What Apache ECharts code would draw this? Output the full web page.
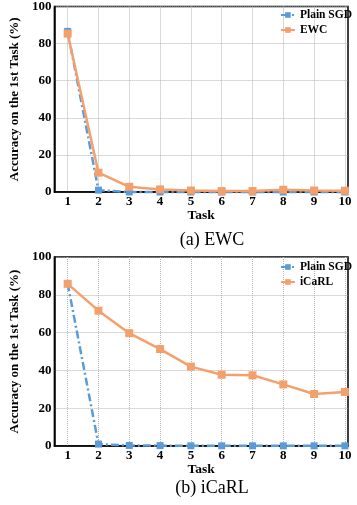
<!DOCTYPE html>
<html><head><meta charset="utf-8">
<script src="https://cdn.jsdelivr.net/npm/echarts@6/dist/echarts.min.js"></script>
<style>html,body{margin:0;padding:0;background:#fff}#c{width:357px;height:505px}</style>
</head><body><div id="c"></div>
<script>
var tasks = [1,2,3,4,5,6,7,8,9,10];
var yTicks = [0,20,40,60,80,100];
var sgdA = [86.6, 1.0, 0, 0, 0, 0, 0, 0, 0, 0];
var ewc  = [85.4, 10.4, 2.8, 1.4, 0.8, 0.5, 0.5, 1.2, 0.8, 0.7];
var sgdB = [86.0, 1.0, 0.3, 0.2, 0.1, 0.1, 0.1, 0.1, 0.1, 0.1];
var icarl = [85.8, 71.6, 59.7, 51.3, 42.0, 37.7, 37.4, 32.6, 27.5, 28.6];
var captions = ['(a) EWC', '(b) iCaRL'];

var FONT = 'Liberation Serif';
var BLUE = '#5b9bd8', ORANGE = '#f4a06c';
function pairs(v){ return tasks.map(function(t,i){ return [t, v[i]]; }); }

var grids = [
  {left:51, top:5, width:297, height:187},
  {left:51, top:257, width:297, height:189}
];
grids.forEach(function(g){ g.show = true; g.borderColor = '#000'; g.borderWidth = 1.5; g.backgroundColor = 'transparent'; });

function xAxis(i){
  return {type:'value', gridIndex:i, min:0.57, max:10.1,
    name:'Task', nameLocation:'middle', nameGap:16,
    nameTextStyle:{fontFamily:FONT, fontWeight:'bold', fontSize:13.5, color:'#000'},
    axisLine:{show:true, lineStyle:{color:'#000', width:1.5}},
    axisTick:{show:false, customValues:tasks},
    axisLabel:{customValues:tasks, fontFamily:FONT, fontWeight:'bold', fontSize:13, color:'#000', margin:3},
    splitLine:{show:true, lineStyle:{type:'dotted', color:'#b4b4b4', width:1}}
  };
}
function yAxis(i){
  return {type:'value', gridIndex:i, min:0, max:100, interval:20,
    name:'Accuracy on the 1st Task (%)', nameLocation:'middle', nameGap:29,
    nameTextStyle:{fontFamily:FONT, fontWeight:'bold', fontSize:13, color:'#000'},
    axisLine:{show:true, lineStyle:{color:'#000', width:1.5}},
    axisTick:{show:false},
    axisLabel:{fontFamily:FONT, fontWeight:'bold', fontSize:13, color:'#000', margin:3},
    splitLine:{show:true, lineStyle:{type:'dotted', color:'#b4b4b4', width:1}}
  };
}
function sgdSeries(i, v){
  return {name:'Plain SGD', type:'line', xAxisIndex:i, yAxisIndex:i, data:pairs(v),
    symbol:'rect', symbolSize:7, clip:false,
    lineStyle:{color:BLUE, width:2.5, type:[8,3,2,3]}, itemStyle:{color:BLUE}, z:2};
}
function otherSeries(i, name, v){
  return {name:name, type:'line', xAxisIndex:i, yAxisIndex:i, data:pairs(v),
    symbol:'rect', symbolSize:8, clip:false,
    lineStyle:{color:ORANGE, width:2.5}, itemStyle:{color:ORANGE}, z:3};
}
function legend(top, names){
  return {orient:'vertical', right:3, top:top, itemGap:3, itemWidth:14, itemHeight:7,
    data:names, textStyle:{fontFamily:FONT, fontWeight:'bold', fontSize:11.5, color:'#000'}, padding:2};
}
var chart = echarts.init(document.getElementById('c'), null, {renderer:'canvas'});
chart.setOption({
  animation:false,
  grid:grids,
  xAxis:[xAxis(0), xAxis(1)],
  yAxis:[yAxis(0), yAxis(1)],
  legend:[legend(7, ['Plain SGD','EWC']), legend(259, ['Plain SGD','iCaRL'])],
  title:[
    {text:captions[0], left:207, top:226, textAlign:'center', textStyle:{fontFamily:FONT, fontWeight:'normal', fontSize:18, color:'#000'}},
    {text:captions[1], left:207, top:474, textAlign:'center', textStyle:{fontFamily:FONT, fontWeight:'normal', fontSize:18, color:'#000'}}
  ],
  series:[
    sgdSeries(0, sgdA), otherSeries(0, 'EWC', ewc),
    sgdSeries(1, sgdB), otherSeries(1, 'iCaRL', icarl)
  ]
});
</script></body></html>
